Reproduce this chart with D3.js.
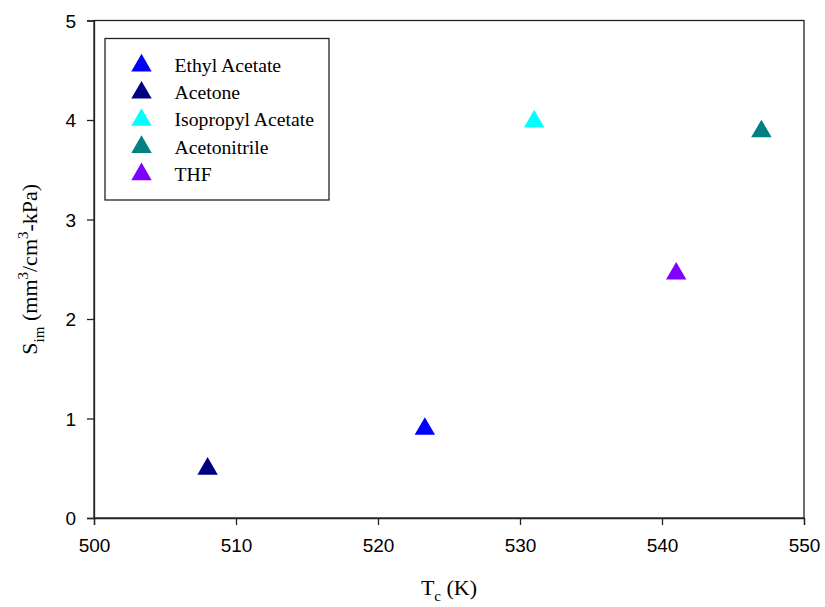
<!DOCTYPE html>
<html>
<head>
<meta charset="utf-8">
<script src="https://cdn.jsdelivr.net/npm/d3@7"></script>
<style>
  body { margin: 0; background: #fff; }
  svg { display: block; }
</style>
</head>
<body>
<svg id="chart" width="825" height="607"></svg>
<script>
const seriesNames = ["Ethyl Acetate", "Acetone", "Isopropyl Acetate", "Acetonitrile", "THF"];
const seriesColors = ["#0000ff", "#000080", "#00ffff", "#008080", "#8000ff"];
const tcValues = [523.3, 508.0, 531.0, 547.0, 541.0];
const simValues = [0.91, 0.51, 4.0, 3.9, 2.47];
const xTicks = [500, 510, 520, 530, 540, 550];
const yTicks = [0, 1, 2, 3, 4, 5];

const svg = d3.select("#chart");
const L = 94, R = 804, T = 20.5, B = 518;
const x = d3.scaleLinear().domain([500, 550]).range([L, R]);
const y = d3.scaleLinear().domain([0, 5]).range([B, T]);

const sans = "'Liberation Sans', Arial, sans-serif";
const serif = "'Liberation Serif', 'Times New Roman', serif";

// frame
svg.append("rect").attr("x", L).attr("y", T).attr("width", R - L).attr("height", B - T)
  .attr("fill", "none").attr("stroke", "#222").attr("stroke-width", 1.3);

const xAxis = svg.append("g").attr("transform", `translate(0,${B})`)
  .call(d3.axisBottom(x).tickValues(xTicks).tickSize(7).tickPadding(14).tickFormat(d3.format("d")));
const yAxis = svg.append("g").attr("transform", `translate(${L},0)`)
  .call(d3.axisLeft(y).tickValues(yTicks).tickSize(7).tickPadding(11).tickFormat(d3.format("d")));
[xAxis, yAxis].forEach(g => {
  g.select(".domain").attr("stroke", "#222").attr("stroke-width", 1.3);
  g.selectAll(".tick line").attr("stroke", "#222").attr("stroke-width", 1.3);
  g.selectAll(".tick text").attr("font-family", sans).attr("font-size", 19).attr("fill", "#000");
});
yAxis.selectAll(".tick text").attr("dy", "0.36em");

// triangles
const tri = d3.symbol().type(d3.symbolTriangle).size(180);
const data = seriesNames.map((n, i) => ({ name: n, color: seriesColors[i], tc: tcValues[i], sim: simValues[i] }));
svg.append("g").selectAll("path").data(data).join("path")
  .attr("d", tri)
  .attr("transform", d => `translate(${x(d.tc)},${y(d.sim) + 1.5})`)
  .attr("fill", d => d.color);

// legend
const lg = svg.append("g");
lg.append("rect").attr("x", 105).attr("y", 38.5).attr("width", 224).attr("height", 161.5)
  .attr("fill", "#fff").attr("stroke", "#222").attr("stroke-width", 1.3);
const rows = lg.selectAll("g.row").data(data).join("g").attr("class", "row")
  .attr("transform", (d, i) => `translate(0,${64 + i * 27.2})`);
rows.append("path").attr("d", tri).attr("transform", "translate(141.5,1.5)").attr("fill", d => d.color);
rows.append("text").attr("x", 174.5).attr("y", 8).attr("font-family", serif).attr("font-size", 19.7)
  .attr("fill", "#000").text(d => d.name);

// x title
const xt = svg.append("text").attr("x", 449).attr("y", 595).attr("text-anchor", "middle")
  .attr("font-family", serif).attr("font-size", 22).attr("fill", "#000");
xt.append("tspan").text("T");
xt.append("tspan").attr("font-size", 15).attr("dy", 6).text("c");
xt.append("tspan").attr("dy", -6).text(" (K)");

// y title
const yt = svg.append("text").attr("transform", `translate(37,${(T + B) / 2}) rotate(-90)`)
  .attr("text-anchor", "middle").attr("font-family", serif).attr("font-size", 22).attr("fill", "#000");
yt.append("tspan").text("S");
yt.append("tspan").attr("font-size", 15).attr("dy", 7).text("im");
yt.append("tspan").attr("dy", -7).text(" (mm");
yt.append("tspan").attr("font-size", 15).attr("dy", -9).text("3");
yt.append("tspan").attr("dy", 9).text("/cm");
yt.append("tspan").attr("font-size", 15).attr("dy", -9).text("3");
yt.append("tspan").attr("dy", 9).text("-kPa)");
</script>
</body>
</html>
